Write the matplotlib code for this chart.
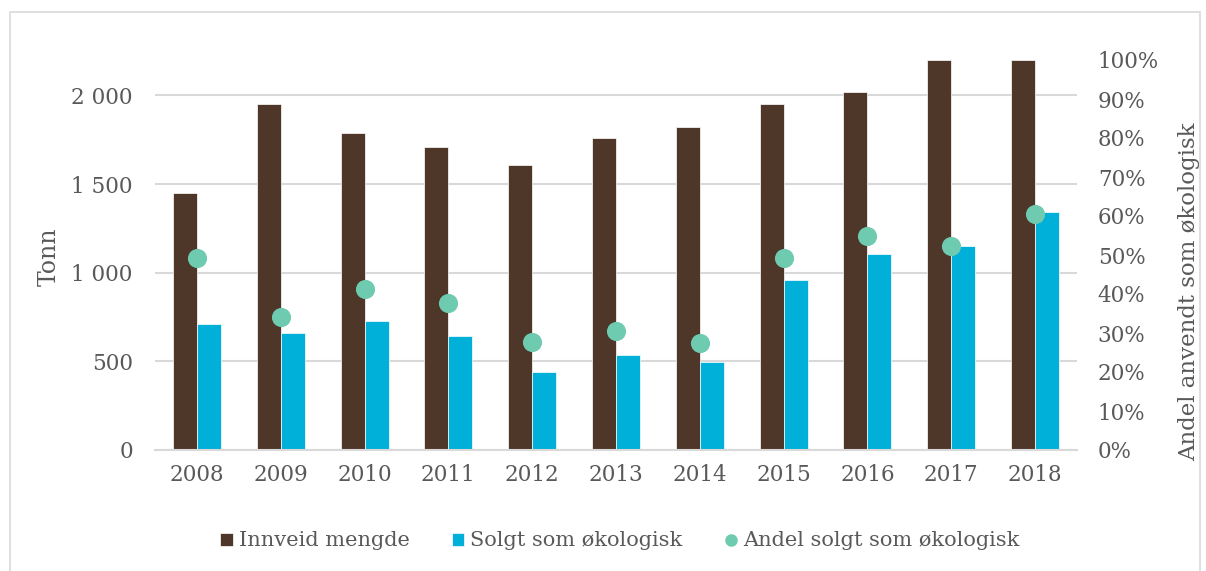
import matplotlib
matplotlib.use("Agg")
import matplotlib.pyplot as plt
import numpy as np
from matplotlib.patches import Rectangle
from matplotlib.lines import Line2D
from matplotlib.ticker import FuncFormatter

years = ["2008", "2009", "2010", "2011", "2012", "2013", "2014", "2015", "2016", "2017", "2018"]
innveid = [1450, 1950, 1790, 1710, 1610, 1760, 1820, 1950, 2020, 2200, 2200]
solgt = [712, 660, 728, 644, 442, 537, 497, 960, 1107, 1153, 1345]
andel = [0.492, 0.341, 0.412, 0.377, 0.277, 0.305, 0.274, 0.492, 0.548, 0.523, 0.605]

brown = "#4E3629"
blue = "#00B0D8"
green = "#6ECBB0"
txt = "#595959"
grid = "#D9D9D9"

plt.rcParams['font.family'] = ['DejaVu Serif']

fig = plt.figure(figsize=(12.06, 5.71), dpi=100)
fig.patches.append(Rectangle((10/1206, -0.01), (1200-10)/1206, (571-12)/571 + 0.01,
                             transform=fig.transFigure, fill=False, edgecolor=grid, lw=1.2))

ax = fig.add_axes([155/1206, (571-450)/571, (1077-155)/1206, (450-60)/571])
x = np.arange(len(years))
w = 0.286
ax.bar(x - w/2, innveid, w, color=brown, edgecolor="white", linewidth=0.5, label="Innveid mengde", zorder=2)
ax.bar(x + w/2, solgt, w, color=blue, edgecolor="white", linewidth=0.5, label="Solgt som økologisk", zorder=2)
ax.set_xlim(-0.5, len(years) - 0.5)
ax.set_ylim(0, 2200)
ax.set_yticks([0, 500, 1000, 1500, 2000])
ax.yaxis.set_major_formatter(FuncFormatter(lambda v, p: f"{int(v):,}".replace(",", " ")))
ax.set_xticks(x)
ax.set_xticklabels(years)
for s in ["top", "left", "right"]:
    ax.spines[s].set_visible(False)
ax.spines["bottom"].set_color(grid)
ax.spines["bottom"].set_linewidth(1.5)
ax.yaxis.grid(True, color=grid, linewidth=1.5, zorder=0)
ax.set_axisbelow(True)
ax.tick_params(axis="both", length=0, colors=txt, labelsize=15.5)
ax.tick_params(axis="y", pad=16)
ax.tick_params(axis="x", pad=10)
fig.text(49/1206, 1 - 257/571, "Tonn", color=txt, fontsize=17, rotation=90,
         ha="center", va="center")

ax2 = ax.twinx()
ax2.scatter(x, andel, s=190, color=green, zorder=3, linewidths=0)
ax2.set_ylim(0, 1)
ax2.set_yticks(np.arange(0, 1.01, 0.1))
ax2.yaxis.set_major_formatter(FuncFormatter(lambda v, p: f"{int(round(v*100))}%"))
for s in ["top", "left", "right", "bottom"]:
    ax2.spines[s].set_visible(False)
ax2.tick_params(axis="y", length=0, colors=txt, labelsize=15.5, pad=15)
fig.text(1189/1206, 1 - 292/571, "Andel anvendt som økologisk", color=txt, fontsize=16.5,
         rotation=90, ha="center", va="center")

h1, l1 = ax.get_legend_handles_labels()
dot = Line2D([], [], marker="o", linestyle="none", markersize=9, markerfacecolor=green,
             markeredgewidth=0)
leg = fig.legend(h1 + [dot], l1 + ["Andel solgt som økologisk"], loc="center",
                 bbox_to_anchor=(620/1206, 1 - 541/571),
                 ncol=3, frameon=False, fontsize=15, handlelength=0.6, handleheight=0.6,
                 handletextpad=0.3, columnspacing=2.0, labelcolor=txt)

fig.savefig("out.png", dpi=100)
